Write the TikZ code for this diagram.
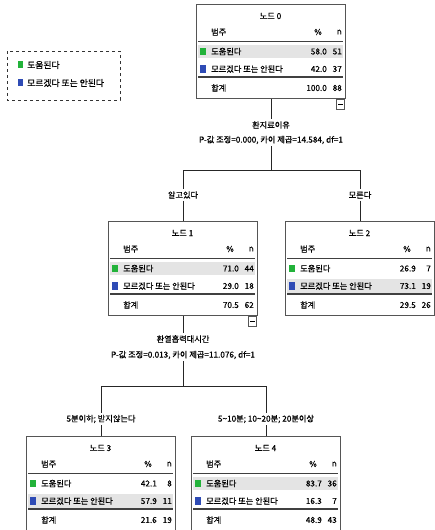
\documentclass[tikz,border=0pt]{standalone}
\usepackage{fontspec}
\setmainfont{Noto Sans CJK KR}
\newfontfamily\krfont{Noto Sans CJK KR}[FakeBold=0.6]
\usetikzlibrary{calc}
\definecolor{grn}{HTML}{22B23A}
\definecolor{blu}{HTML}{2E4BB5}
\definecolor{shadegray}{HTML}{E4E4E4}
\definecolor{framegray}{HTML}{555555}
\tikzset{
  txt/.style={inner sep=0pt, font=\krfont\fontsize{8.2}{9}\selectfont},
  lbl/.style={inner sep=2pt, font=\krfont\fontsize{8.2}{9}\selectfont},
  spssbox/.style={draw=framegray, line width=1pt, minimum width=149pt, minimum height=94pt, inner sep=0pt},
  conn/.style={draw=black!85, line width=0.9pt},
  rule/.style={draw=black!75, line width=1.3pt},
}
% #1 node name, #2 title, #3 p1, #4 n1, #5 p2, #6 n2, #7 ptot, #8 ntot, #9 shaded row
\newcommand\spssfill[9]{%
  \begin{scope}[shift={(#1.north west)}]
    \ifnum#9=1 \fill[shadegray] (1.5,40.5) rectangle (147,54);\fi
    \ifnum#9=2 \fill[shadegray] (1.5,58) rectangle (147,71.5);\fi
    \node[txt] (#1t) at (74.5,12) {#2};
    \node[txt,anchor=west] (#1h) at (15,28) {범주};
    \node[txt,anchor=east] (#1hp) at (126,28) {\%};
    \node[txt,anchor=east] (#1hn) at (146,28) {n};
    \draw[rule] (2,37.5) -- (147,37.5);
    \fill[grn] (4,43.5) rectangle (10,51);
    \node[txt,anchor=west] (#1a) at (15,47.5) {도움된다};
    \node[txt,anchor=east] (#1ap) at (131,47.5) {#3};
    \node[txt,anchor=east] (#1an) at (146,47.5) {#4};
    \fill[blu] (4,61) rectangle (10,68.5);
    \node[txt,anchor=west] (#1b) at (15,65) {모르겠다 또는 안된다};
    \node[txt,anchor=east] (#1bp) at (131,65) {#5};
    \node[txt,anchor=east] (#1bn) at (146,65) {#6};
    \draw[rule] (2,73) -- (147,73);
    \node[txt,anchor=west] (#1c) at (15,84) {합계};
    \node[txt,anchor=east] (#1cp) at (131,84) {#7};
    \node[txt,anchor=east] (#1cn) at (146,84) {#8};
  \end{scope}}
\newcommand\spsscollapse[1]{%
  \begin{scope}[shift={(#1.south east)}]
    \draw[draw=framegray, line width=0.8pt, fill=white] (-10,0) rectangle (-1.5,10);
    \draw[line width=0.8pt] (-8,5) -- (-3.5,5);
  \end{scope}}
\begin{document}
\begin{tikzpicture}[x=1pt,y=-1pt]
\useasboundingbox (0,0) rectangle (435,530);
\fill[white] (0,0) rectangle (435,530);

% legend
\draw[dashed, draw=black!80, line width=0.8pt] (7,51) rectangle (120,100);
\fill[grn] (18,61) rectangle (23,68);
\node[txt,anchor=west,font=\krfont\fontsize{8.8}{10}\selectfont] (lg1) at (27,65) {도움된다};
\fill[blu] (18,79) rectangle (23,86);
\node[txt,anchor=west,font=\krfont\fontsize{8.8}{10}\selectfont] (lg2) at (27,83) {모르겠다 또는 안된다};

% boxes
\node[spssbox, anchor=north] (n0) at (271,4) {};
\node[spssbox, anchor=north] (n1) at (183,221) {};
\node[spssbox, anchor=north] (n2) at (360,221) {};
\node[spssbox, anchor=north] (n3) at (101,436) {};
\node[spssbox, anchor=north] (n4) at (266,436) {};

\spssfill{n0}{노드 0}{58.0}{51}{42.0}{37}{100.0}{88}{1}
\spssfill{n1}{노드 1}{71.0}{44}{29.0}{18}{70.5}{62}{1}
\spssfill{n2}{노드 2}{26.9}{7}{73.1}{19}{29.5}{26}{2}
\spssfill{n3}{노드 3}{42.1}{8}{57.9}{11}{21.6}{19}{2}
\spssfill{n4}{노드 4}{83.7}{36}{16.3}{7}{48.9}{43}{1}

% split of node 0
\node[lbl] (s0a) at (271,125) {환지료이유};
\node[lbl] (s0b) at (271,140) {P-값 조정=0.000, 카이 제곱=14.584, df=1};
\coordinate (h0) at (271,170);
\coordinate (h0l) at (183,170);
\coordinate (h0r) at (360,170);
\node[lbl] (b1) at (183,195) {알고있다};
\node[lbl] (b2) at (360,195) {모른다};
\draw[conn] (n0.south) -- (s0a.north);
\draw[conn] (s0b.south) -- (h0);
\draw[conn] (h0l) -- (h0r);
\draw[conn] (h0l) -- (b1.north);
\draw[conn] (h0r) -- (b2.north);
\draw[conn] (b1.south) -- (n1.north);
\draw[conn] (b2.south) -- (n2.north);

% split of node 1
\node[lbl] (s1a) at (183,339) {환열흡력대시간};
\node[lbl] (s1b) at (183,355) {P-값 조정=0.013, 카이 제곱=11.076, df=1};
\coordinate (h1) at (183,386);
\coordinate (h1l) at (101,386);
\coordinate (h1r) at (266,386);
\node[lbl] (b3) at (101,419) {5분이하; 받지않는다};
\node[lbl] (b4) at (266,419) {5\textasciitilde10분; 10\textasciitilde20분; 20분이상};
\draw[conn] (n1.south) -- (s1a.north);
\draw[conn] (s1b.south) -- (h1);
\draw[conn] (h1l) -- (h1r);
\draw[conn] (h1l) -- (b3.north);
\draw[conn] (h1r) -- (b4.north);
\draw[conn] (b3.south) -- (n3.north);
\draw[conn] (b4.south) -- (n4.north);

\spsscollapse{n0}
\spsscollapse{n1}
\end{tikzpicture}
\end{document}
